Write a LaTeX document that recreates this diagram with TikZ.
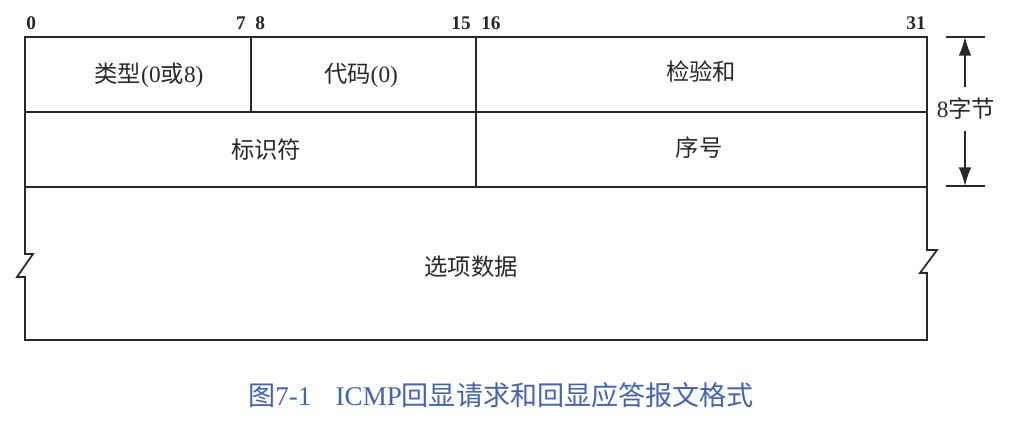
\documentclass[tikz,border=0pt]{standalone}
\usepackage{fontspec}
\setmainfont{Liberation Serif}
\newfontfamily\cjk{Noto Sans CJK SC}
\usetikzlibrary{arrows.meta}
\definecolor{capblue}{RGB}{66,98,178}
\definecolor{ink}{RGB}{40,40,40}
\begin{document}
\begin{tikzpicture}[x=0.75pt,y=-0.75pt,
  box/.style={line width=1.3pt, line join=miter, draw=ink},
  divider/.style={line width=1.3pt, draw=ink},
  bitlbl/.style={font=\fontsize{14.5}{16}\selectfont\bfseries, inner sep=0pt, text=ink},
  field/.style={font=\fontsize{17.5}{20}\selectfont, inner sep=0pt, text=ink},
  dimline/.style={line width=1.1pt, draw=ink},
  dimarrow/.style={line width=1.1pt, draw=ink, -{Latex[length=14pt,width=9.5pt]}},
  caption/.style={font=\fontsize{20.3}{24}\selectfont, inner sep=0pt, text=capblue}
]
\useasboundingbox (0,0) rectangle (1020,424);

% outer frame with break marks
\draw[box] (25,37) -- (927,37) -- (927,250) -- (937,250) -- (920,273) -- (927,273)
  -- (927,340) -- (25,340) -- (25,277) -- (17,277) -- (33,254) -- (25,254) -- cycle;

% internal lines
\draw[divider] (25,112) -- (927,112);
\draw[divider] (25,187) -- (927,187);
\draw[divider] (251,37) -- (251,112);
\draw[divider] (476,37) -- (476,187);

% bit labels
\node[bitlbl, anchor=base west] (b0) at (26,30) {0};
\node[bitlbl, anchor=base east] (b7) at (246,30) {7};
\node[bitlbl, anchor=base west] (b8) at (255,30) {8};
\node[bitlbl, anchor=base east] (b15) at (471,30) {15};
\node[bitlbl, anchor=base west] (b16) at (481,30) {16};
\node[bitlbl, anchor=base east] (b31) at (926,30) {31};

% fields
\node[field] (type) at (149,75) {{\cjk 类型}(0{\cjk 或}8)};
\node[field] (code) at (361,75) {{\cjk 代码}(0)};
\node[field] (cksum) at (701,72) {\cjk 检验和};
\node[field] (ident) at (266,150) {\cjk 标识符};
\node[field] (seq) at (699,148) {\cjk 序号};
\node[field] (opt) at (471,267) {\cjk 选项数据};

% dimension
\coordinate (ttop) at (965,37);
\coordinate (tbot) at (965,186);
\draw[dimline] (946,37) -- (985,37);
\draw[dimline] (946,186) -- (985,186);
\node[field, inner ysep=8pt] (dim) at (966,109) {8{\cjk 字节}};
\draw[dimarrow] (dim.north -| ttop) -- (ttop);
\draw[dimarrow] (dim.south -| tbot) -- (tbot);

% caption
\node[caption] (cap) at (501,395) {{\cjk 图}7-1\hspace{0.9em}ICMP{\cjk 回显请求和回显应答报文格式}};
\end{tikzpicture}
\end{document}
